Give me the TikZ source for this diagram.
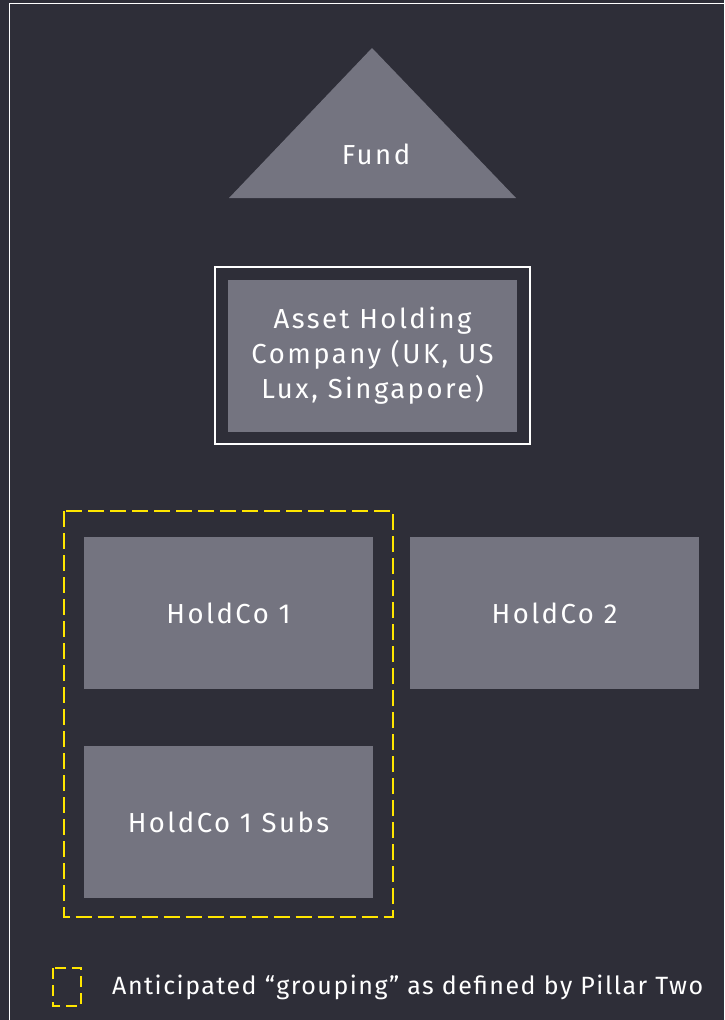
\documentclass[tikz,border=0pt]{standalone}
\usepackage{fontspec}
\setmainfont{Fira Sans}
\newfontfamily\boxfont[LetterSpace=9]{Fira Sans}
\newfontfamily\legendfont[LetterSpace=6]{Fira Sans}
\definecolor{bg}{HTML}{2E2E38}
\definecolor{boxgrey}{HTML}{747480}
\definecolor{eyyellow}{HTML}{FFE600}
\begin{document}
\begin{tikzpicture}[x=1pt,y=-1pt,
  entity/.style={fill=boxgrey,draw=none,minimum width=289pt,minimum height=152pt,
    inner sep=0pt,text=white,font=\boxfont\fontsize{27.5}{35}\selectfont,align=center},
  group/.style={draw=eyyellow,line width=2pt,dash pattern=on 16pt off 6pt},
  frame/.style={draw=white,line width=1.5pt}]
\useasboundingbox (0,0) rectangle (724,1020);
\fill[bg] (0,0) rectangle (724,1020);
\begin{scope}
\clip (0,0) rectangle (724,1020);
\draw[frame] (9.5,3.5) rectangle (760,1060);
\end{scope}
% Fund
\fill[boxgrey] (372,48) -- (516,198) -- (229,198) -- cycle;
\node[text=white,font=\boxfont\fontsize{27.5}{30}\selectfont] (fund) at (376,154) {Fund};
% Asset holding company with outline
\draw[frame] (215,267) rectangle (530,444);
\node[entity] (ahc) at (372.5,356)
  {Asset Holding\\Company (UK, US\\Lux, Singapore)};
% HoldCos
\node[entity] (h1) at (228.5,613) {HoldCo 1};
\node[entity] (h2) at (554.5,613) {HoldCo 2};
\node[entity] (h1s) at (228.5,822) {HoldCo 1 Subs};
% Grouping
\draw[group] (63.5,511) rectangle (392.5,917);
% Legend
\draw[group,dash pattern=on 11pt off 6pt] (53,968) rectangle (81,1006);
\node[anchor=west,text=white,font=\legendfont\fontsize{25}{28}\selectfont,inner sep=0pt] (leg) at (112,987)
  {Anticipated “grouping” as defined by Pillar Two};
\end{tikzpicture}
\end{document}
